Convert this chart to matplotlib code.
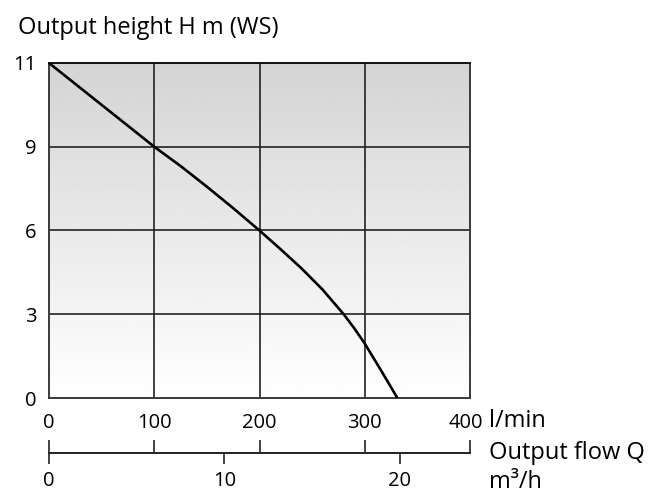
"""
Pump characteristic curve
Output height vs output flow
"""
import numpy as np
import matplotlib
matplotlib.use('Agg')
import matplotlib.pyplot as plt
import matplotlib.transforms as mtransforms

plt.rcParams['font.family'] = ['Open Sans', 'DejaVu Sans']

# Datos -------------------------------------------------
flow_lpm = [0, 50, 100, 125, 150, 175, 200, 220, 240, 260, 280, 290, 300, 315, 331]
height_m = [11, 10, 9, 8.31, 7.57, 6.8, 6, 5.33, 4.64, 3.88, 3.0, 2.5, 1.95, 1.02, 0]

xticks_lpm = [0, 100, 200, 300, 400]
yticks_m = [0, 3, 6, 9, 11]
xticks_m3h = [0, 10, 20]

title_txt = 'Output height H m (WS)'
unit_lpm = 'l/min'
flow_txt = 'Output flow Q'
unit_m3h = 'm³/h'

# Escala del eje y: 0-9 lineal, 9-11 comprimido --------
def fwd(y):
    y = np.asarray(y, dtype=float)
    return np.where(y <= 9, y / 3.0, 3.0 + (y - 9) / 2.0)

def inv(u):
    u = np.asarray(u, dtype=float)
    return np.where(u <= 3, u * 3.0, 9.0 + (u - 3) * 2.0)

# Conversion l/min <-> m3/h
def lpm2m3h(q):
    return np.asarray(q, dtype=float) * 60.0 / 1000.0

def m3h2lpm(q):
    return np.asarray(q, dtype=float) * 1000.0 / 60.0

W, H = 661, 495
fig = plt.figure(figsize=(W / 100, H / 100), dpi=100)

left, right = 49 / W, 470 / W
top, bottom = 1 - 63 / H, 1 - 398 / H
ax = fig.add_axes([left, bottom, right - left, top - bottom])

ax.set_yscale('function', functions=(fwd, inv))
ax.set_xlim(0, 400)
ax.set_ylim(0, 11)

# Fondo degradado
grad = np.linspace(1.0, 0.83, 256).reshape(-1, 1)
ax.imshow(grad, cmap='gray', vmin=0, vmax=1, extent=[0, 1, 0, 1],
          transform=ax.transAxes, aspect='auto', origin='lower', zorder=0)

# Rejilla
for xv in xticks_lpm[1:-1]:
    ax.axvline(xv, color='#222222', lw=1.2, zorder=1)
for yv in yticks_m[1:-1]:
    ax.axhline(yv, color='#222222', lw=1.2, zorder=1)

ax.plot(flow_lpm, height_m, color='black', lw=1.9, zorder=3,
        solid_capstyle='butt', solid_joinstyle='round')

for s in ax.spines.values():
    s.set_color('#3a3a3a')
    s.set_linewidth(1.4)
ax.spines['top'].set_color('#111111')

ax.set_xticks(xticks_lpm)
ax.set_xticklabels([str(v) for v in xticks_lpm])
ax.set_yticks(yticks_m)
ax.set_yticklabels([str(v) for v in yticks_m])
ax.tick_params(axis='both', length=0, labelsize=14.5, colors='black')
ax.tick_params(axis='y', pad=9)
ax.tick_params(axis='x', pad=11)

# el "400" va un poco a la izquierda para dejar sitio a l/min
lab = ax.get_xticklabels()[-1]
lab.set_transform(lab.get_transform() +
                  mtransforms.ScaledTranslation(-4 / 100, 0, fig.dpi_scale_trans))

# Segundo eje de caudal ---------------------------------
ax2_y = 1 - 453 / H
ax2 = fig.add_axes([left, ax2_y, right - left, 0.001])
ax2.set_xlim(0, 400)
ax2.patch.set_visible(False)
ax2.set_yticks([])
for k in ['top', 'left', 'right']:
    ax2.spines[k].set_visible(False)
ax2.spines['bottom'].set_color('#222222')
ax2.spines['bottom'].set_linewidth(1.2)
ax2.set_xticks(xticks_lpm)
ax2.set_xticklabels([])
ax2.tick_params(axis='x', direction='in', length=9.5, width=1.2,
                color='#222222')

sec = ax2.secondary_xaxis(0, functions=(lpm2m3h, m3h2lpm))
sec.spines['bottom'].set_color('#222222')
sec.spines['bottom'].set_linewidth(1.2)
sec.set_xticks(xticks_m3h)
sec.set_xticklabels([str(v) for v in xticks_m3h])
sec.tick_params(axis='x', direction='out', length=8, width=1.2,
                color='#222222', labelsize=14.5, pad=5)

# Textos -------------------------------------------------
fig.text(18 / W, 1 - 28 / H, title_txt, fontsize=17, va='center', ha='left')
fig.text(489 / W, 1 - 421 / H, unit_lpm, fontsize=17, va='center', ha='left')
fig.text(489 / W, 1 - 453 / H, flow_txt, fontsize=17, va='center', ha='left')
fig.text(489 / W, 1 - 482 / H, unit_m3h, fontsize=17, va='center', ha='left')

fig.savefig('out.png', dpi=100)
